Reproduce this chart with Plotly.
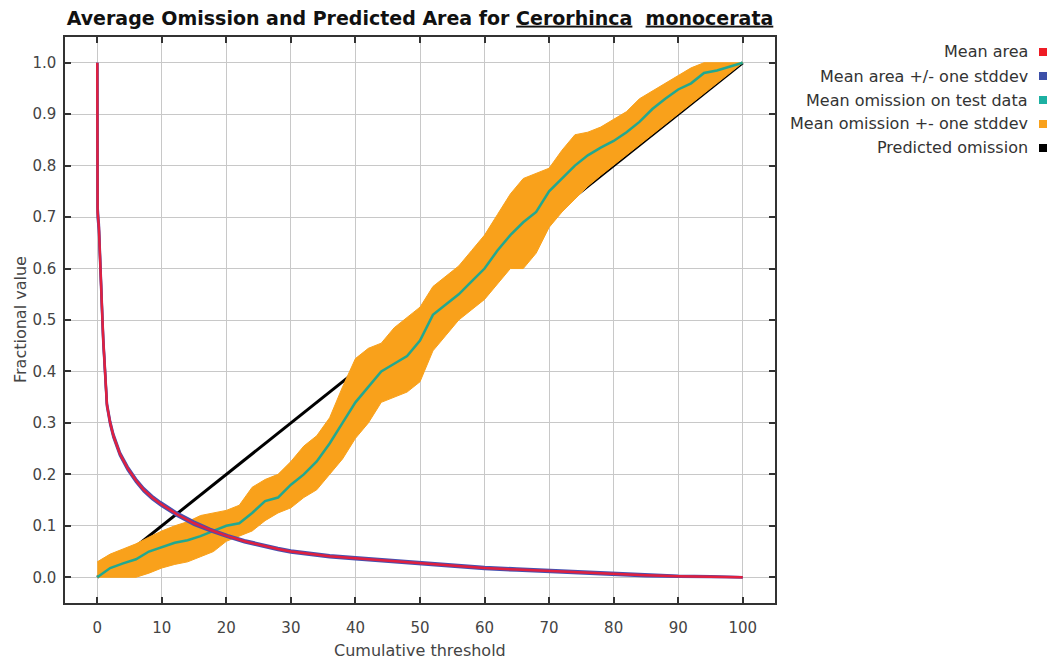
import plotly.graph_objects as go

# ---------------- data ----------------
area_x = [0, 0.01, 0.05, 0.25, 0.45, 0.6, 0.8, 0.93, 1.2, 1.5, 2.0, 2.5, 3.5, 4.7, 6.0, 7.2,
          8.5, 9.8, 12.4, 15, 17.5, 20.2, 22.8, 25.4, 28, 30, 33, 36, 40, 45, 50, 55, 60,
          65, 70, 75, 80, 85, 90, 95, 100]
area_mean = [1.0, 0.75, 0.71, 0.68, 0.6, 0.545, 0.5, 0.46, 0.39, 0.335, 0.3, 0.275, 0.24,
             0.212, 0.188, 0.17, 0.155, 0.143, 0.122, 0.105, 0.092, 0.08, 0.07, 0.062, 0.055,
             0.05, 0.045, 0.041, 0.037, 0.032, 0.027, 0.023, 0.018, 0.015, 0.012, 0.009,
             0.006, 0.004, 0.002, 0.001, 0.0]
area_sd = [0.0, 0.02, 0.01, 0.006, 0.005, 0.004, 0.004, 0.004, 0.003, 0.003, 0.003, 0.003,
           0.003, 0.003, 0.003, 0.003, 0.003, 0.003, 0.003, 0.003, 0.002, 0.002, 0.002, 0.002,
           0.002, 0.002, 0.002, 0.002, 0.002, 0.002, 0.002, 0.002, 0.002, 0.002, 0.002, 0.002,
           0.002, 0.002, 0.001, 0.001, 0.0]

om_x = [0, 2, 4, 6, 8, 10, 12, 14, 16, 18, 20, 22, 24, 26, 28, 30, 32, 34, 36, 38, 40, 42,
        44, 46, 48, 50, 52, 54, 56, 58, 60, 62, 64, 66, 68, 70, 72, 74, 76, 78, 80, 82, 84,
        86, 88, 90, 92, 94, 96, 98, 100]
om_mean = [0.0, 0.018, 0.027, 0.035, 0.05, 0.058, 0.067, 0.072, 0.08, 0.09, 0.1, 0.105,
           0.125, 0.148, 0.155, 0.18, 0.2, 0.225, 0.26, 0.3, 0.34, 0.37, 0.4, 0.415, 0.43,
           0.46, 0.51, 0.53, 0.55, 0.575, 0.6, 0.635, 0.665, 0.69, 0.71, 0.75, 0.775, 0.8,
           0.82, 0.835, 0.848, 0.865, 0.885, 0.91, 0.93, 0.948, 0.96, 0.98, 0.985, 0.992, 1.0]
om_upper = [0.03, 0.045, 0.055, 0.065, 0.078, 0.09, 0.1, 0.108, 0.12, 0.125, 0.13, 0.14,
            0.175, 0.19, 0.2, 0.225, 0.255, 0.275, 0.31, 0.37, 0.425, 0.445, 0.455, 0.485,
            0.505, 0.525, 0.565, 0.585, 0.605, 0.635, 0.665, 0.705, 0.745, 0.775, 0.785,
            0.795, 0.83, 0.86, 0.865, 0.875, 0.89, 0.905, 0.93, 0.945, 0.96, 0.975, 0.99,
            1.0, 1.0, 1.0, 1.0]
om_lower = [0.0, 0.0, 0.0, 0.0, 0.008, 0.018, 0.025, 0.03, 0.04, 0.05, 0.07, 0.08, 0.09,
            0.11, 0.125, 0.135, 0.155, 0.17, 0.2, 0.23, 0.27, 0.3, 0.34, 0.35, 0.36, 0.38,
            0.44, 0.47, 0.5, 0.52, 0.54, 0.57, 0.6, 0.6, 0.63, 0.68, 0.71, 0.735, 0.76,
            0.781, 0.801, 0.82, 0.841, 0.861, 0.88, 0.9, 0.921, 0.941, 0.96, 0.98, 1.0]

pred_x = [0, 100]
pred_y = [0.0, 1.0]

x_ticks = [0, 10, 20, 30, 40, 50, 60, 70, 80, 90, 100]
y_ticks = [0.0, 0.1, 0.2, 0.3, 0.4, 0.5, 0.6, 0.7, 0.8, 0.9, 1.0]

legend_labels = ["Mean area", "Mean area +/- one stddev", "Mean omission on test data",
                 "Mean omission +- one stddev", "Predicted omission"]
legend_colors = ["#EE1C25", "#3C4FA8", "#1CB0A2", "#F9A11B", "#000000"]

RED, BLUE, TEAL, ORANGE, BLACK = legend_colors

# ---------------- figure ----------------
fig = go.Figure()

fig.add_trace(go.Scatter(x=pred_x, y=pred_y, mode="lines",
                         line=dict(color=BLACK, width=3), showlegend=False))
fig.add_trace(go.Scatter(x=om_x, y=om_lower, mode="lines",
                         line=dict(color=ORANGE, width=1), showlegend=False))
fig.add_trace(go.Scatter(x=om_x, y=om_upper, mode="lines", fill="tonexty",
                         fillcolor=ORANGE, line=dict(color=ORANGE, width=1),
                         showlegend=False))
fig.add_trace(go.Scatter(x=om_x, y=om_mean, mode="lines",
                         line=dict(color="#22A890", width=2.5), showlegend=False))

a_up = [m + s for m, s in zip(area_mean, area_sd)]
a_lo = [max(m - s, 0) for m, s in zip(area_mean, area_sd)]
fig.add_trace(go.Scatter(x=area_x, y=a_up, mode="lines",
                         line=dict(color="#4650B0", width=2.5), showlegend=False))
fig.add_trace(go.Scatter(x=area_x, y=a_lo, mode="lines",
                         line=dict(color="#4650B0", width=2.5), showlegend=False))
fig.add_trace(go.Scatter(x=area_x, y=area_mean, mode="lines",
                         line=dict(color="#E0203F", width=2.5), showlegend=False))

W, H = 1056, 662
L, R, T, B = 65, 281, 37, 59
pw, ph = W - L - R, H - T - B

axis_common = dict(
    showgrid=True, gridcolor="#C8C8C8", gridwidth=1,
    showline=True, linecolor="#333333", linewidth=1.5, mirror="ticks",
    ticks="inside", ticklen=6, tickcolor="#333333", tickwidth=1.5,
    zeroline=False,
    tickfont=dict(family="DejaVu Sans", size=15, color="#444444"),
)

fig.update_xaxes(range=[-5, 105], tickvals=x_ticks, ticklabelstandoff=10, **axis_common)
fig.update_yaxes(range=[-0.05, 1.05], tickvals=y_ticks, tickformat=".1f",
                 ticklabelstandoff=4, **axis_common)

annotations = [
    dict(text="Cumulative threshold", x=0.5, y=(603 - 650) / ph, xref="paper", yref="paper",
         showarrow=False, xanchor="center", yanchor="middle",
         font=dict(family="DejaVu Sans", size=16, color="#444444")),
    dict(text="Fractional value", x=(20 - L) / pw, y=0.5, xref="paper", yref="paper",
         showarrow=False, xanchor="center", yanchor="middle", textangle=-90,
         font=dict(family="DejaVu Sans", size=16, color="#444444")),
]
shapes = []
leg_y = [52, 76, 100, 124, 148]
for lab, col, yy in zip(legend_labels, legend_colors, leg_y):
    py = (603 - yy) / ph
    annotations.append(dict(text=lab, x=(1030 - L) / pw, y=py, xref="paper", yref="paper",
                            showarrow=False, xanchor="right", yanchor="middle",
                            font=dict(family="DejaVu Sans", size=16, color="#333333")))
    shapes.append(dict(type="rect", xref="paper", yref="paper",
                       x0=(1039 - L) / pw, x1=(1047 - L) / pw,
                       y0=(603 - yy - 4) / ph, y1=(603 - yy + 4) / ph,
                       fillcolor=col, line=dict(width=0)))

fig.update_layout(
    width=W, height=H,
    margin=dict(l=L, r=R, t=T, b=B),
    paper_bgcolor="white", plot_bgcolor="white",
    title=dict(text="Average Omission and Predicted Area for <u>Cerorhinca</u>&nbsp;&nbsp;<u>monocerata</u>",
               x=(420 - 0) / W, xanchor="center", y=1 - 18 / H, yanchor="middle",
               font=dict(family="DejaVu Sans", size=19, color="#111111", weight="bold")),
    annotations=annotations, shapes=shapes,
    showlegend=False,
)

fig.write_html("out.html")
